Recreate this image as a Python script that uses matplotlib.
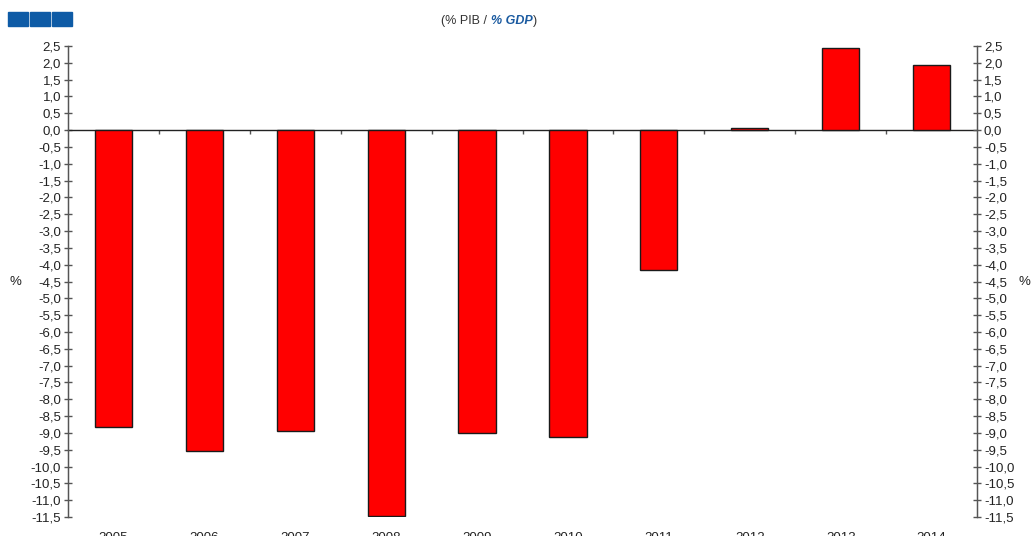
import numpy as np
import matplotlib
matplotlib.use("Agg")
import matplotlib.pyplot as plt
from matplotlib.patches import Rectangle
from matplotlib.ticker import FuncFormatter, MultipleLocator

plt.rcParams['font.family'] = ['Liberation Sans', 'DejaVu Sans']

# data
years = ['2005', '2006', '2007', '2008', '2009', '2010', '2011', '2012', '2013', '2014']
balance = [-8.83, -9.54, -8.93, -11.48, -8.99, -9.13, -4.17, 0.05, 2.44, 1.93]

Y_MIN, Y_MAX = -11.5, 2.5
W, H = 1035, 536

fig = plt.figure(figsize=(W / 100, H / 100), dpi=100)
ax = fig.add_axes([68 / W, 1 - 517 / H, (977 - 68) / W, (517 - 46) / H])

x = np.arange(len(years))
ax.bar(x, balance, width=0.41, color='#ff0000', edgecolor='#1a1a1a', linewidth=1.0, zorder=3)

ax.set_xlim(-0.5, len(years) - 0.5)
ax.set_ylim(Y_MIN, Y_MAX)

comma = FuncFormatter(lambda v, p: f"{v:.1f}".replace('.', ','))
ax.yaxis.set_major_locator(MultipleLocator(0.5))
ax.yaxis.set_major_formatter(comma)

axis_col = '#555555'
for s in ['left', 'right']:
    ax.spines[s].set_color(axis_col)
    ax.spines[s].set_linewidth(1.0)
ax.spines['top'].set_visible(False)
ax.spines['bottom'].set_position(('data', 0))
ax.spines['bottom'].set_color('#222222')
ax.spines['bottom'].set_linewidth(1.0)
ax.spines['bottom'].set_zorder(2)

# separator ticks on the zero line
ax.set_xticks(x[:-1] + 0.5)
ax.tick_params(axis='x', direction='out', length=3, width=1, color=axis_col, labelbottom=False)
ax.tick_params(axis='y', direction='inout', length=6, width=1, color=axis_col,
               labelsize=9.5, labelcolor='#222222', pad=2)

ax2 = ax.twinx()
ax2.set_ylim(Y_MIN, Y_MAX)
ax2.yaxis.set_major_locator(MultipleLocator(0.5))
ax2.yaxis.set_major_formatter(comma)
ax2.tick_params(axis='y', direction='inout', length=6, width=1, color=axis_col,
                labelsize=9.5, labelcolor='#222222', pad=2)
for s in ['left', 'right']:
    ax2.spines[s].set_color(axis_col)
ax2.spines['top'].set_visible(False)
ax2.spines['bottom'].set_visible(False)

# year labels below the plot area (cut by the figure edge as in the reference)
sec = ax.secondary_xaxis(0)
sec.set_xticks(x, years)
sec.tick_params(length=0, pad=10.5, labelsize=9.5, labelcolor='#222222')
sec.spines['bottom'].set_visible(False)

fig.text(15 / W, 1 - 282 / H, '%', fontsize=9.5, color='#222222', ha='center', va='center')
fig.text(1024 / W, 1 - 282 / H, '%', fontsize=9.5, color='#222222', ha='center', va='center')

# header: logo blocks and title
for i in range(3):
    fig.add_artist(Rectangle(((8 + i * 22) / W, 1 - 26 / H), 20 / W, 14 / H,
                             transform=fig.transFigure, color='#0e5ba6'))

fig.canvas.draw()
r = fig.canvas.get_renderer()
parts = [('(% PIB / ', '#333333', 'normal', 'normal'),
         ('% GDP', '#1a5aa0', 'bold', 'italic'),
         (')', '#333333', 'normal', 'normal')]
texts = []
for s, c, w, st in parts:
    t = fig.text(0, 1 - 21 / H, s, fontsize=9, color=c, fontweight=w, fontstyle=st, va='center')
    texts.append(t)
widths = [t.get_window_extent(r).width for t in texts]
xpos = 489 - sum(widths) / 2
for t, wd in zip(texts, widths):
    t.set_x(xpos / W)
    xpos += wd

fig.savefig('out.png', dpi=100)
